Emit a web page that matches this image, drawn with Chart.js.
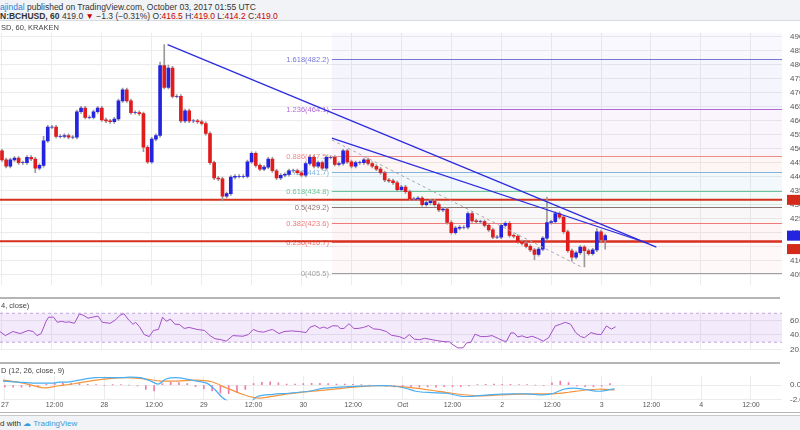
<!DOCTYPE html>
<html>
<head>
<meta charset="utf-8">
<script src="https://cdn.jsdelivr.net/npm/chart.js@4"></script>
<style>
  body { margin: 0; width: 800px; height: 430px; overflow: hidden; background: #fff; font-family: "Liberation Sans", Arial, sans-serif; position: relative; }
  .hdr { position: absolute; left: 0; top: 0; width: 800px; height: 20px; background: #f1f3f6; font-size: 8.5px; color: #333; border-bottom: 1px solid #d8dbe0; }
  .hdr div { position: absolute; left: 0; white-space: nowrap; }
  .pane { position: absolute; left: 0; width: 800px; }
  .sep { position: absolute; left: 0; width: 780px; height: 0; border-top: 2px solid #b5b5b5; }
  .ttl { position: absolute; left: 1px; font-size: 7.5px; color: #444; white-space: nowrap; }
  .ftr { position: absolute; left: 0; top: 415px; width: 800px; height: 15px; background: #f1f3f6; border-top: 1px solid #c8c8c8; font-size: 8px; color: #333; }
</style>
</head>
<body>
<div class="hdr">
  <div style="top:2px"><span style="color:#2f7ed8">ajindal</span> published on TradingView.com, October 03, 2017 01:55 UTC</div>
  <div style="top:11px"><b>N:BCHUSD, 60</b> 419.0 <span style="color:#c00">&#9660;</span> &minus;1.3 (&minus;0.31%) O:<span style="color:#c00">416.5</span> H:<span style="color:#c00">419.0</span> L:<span style="color:#c00">414.2</span> C:<span style="color:#c00">419.0</span></div>
</div>
<div class="pane" style="top:20px;height:278px"><canvas id="price"></canvas></div>
<div class="pane" style="top:298px;height:65px"><canvas id="rsi"></canvas></div>
<div class="pane" style="top:363px;height:50px"><canvas id="macd"></canvas></div>
<div class="sep" style="top:297px"></div>
<div class="sep" style="top:362px"></div>
<div class="sep" style="top:412px;width:800px;border-top-width:1px"></div>
<div class="ttl" style="top:23px">SD, 60, KRAKEN</div>
<div class="ttl" style="top:301px">4, close)</div>
<div class="ttl" style="top:366px">D (12, 26, close, 9)</div>
<div class="ftr"><span style="position:absolute;left:0;top:3px">d with <span style="color:#3a9ad9">&#9729; TradingView</span></span></div>
<script>
// hourly candles, hour 0 = Sep 27 00:00 UTC
const firstOpen = 449.3;
const closes = [446.1, 443.8, 446.1, 446.7, 445.1, 445.1, 447.0, 446.4, 443.1, 444.1,
  452.9, 457.8, 457.8, 454.5, 454.5, 454.8, 454.2, 454.2, 463.3, 464.6,
  461.3, 461.3, 463.3, 464.6, 460.4, 460.0, 459.7, 460.7, 467.2, 471.1,
  467.2, 463.0, 463.0, 462.6, 450.6, 445.4, 453.5, 454.8, 479.8, 472.0,
  478.9, 468.8, 468.8, 460.0, 463.6, 460.0, 460.0, 459.7, 459.1, 455.5,
  445.1, 439.6, 439.3, 433.1, 434.0, 439.9, 440.2, 440.2, 440.2, 445.4,
  448.4, 444.1, 442.8, 443.5, 446.4, 442.2, 439.6, 440.6, 440.9, 442.2,
  442.2, 441.5, 440.6, 444.8, 447.0, 443.8, 445.1, 443.1, 447.0, 447.0,
  444.5, 444.8, 449.3, 445.4, 443.8, 445.1, 445.1, 446.1, 444.8, 443.8,
  442.8, 441.5, 438.9, 438.6, 437.9, 435.4, 436.4, 434.7, 432.1, 432.1,
  432.4, 430.1, 430.8, 431.4, 430.1, 428.2, 428.5, 423.7, 420.1, 421.7,
  422.0, 422.0, 426.9, 424.3, 424.0, 424.0, 422.7, 421.1, 418.5, 418.5,
  422.7, 423.4, 419.1, 418.8, 416.8, 416.2, 415.2, 413.9, 412.3, 414.2,
  418.1, 423.7, 424.0, 426.9, 425.6, 420.4, 413.6, 411.3, 412.9, 414.9,
  413.6, 412.6, 413.9, 420.4, 417.5, 419.0];
const wickHighs = { 10: 454.5, 38: 481.0, 39: 487.3, 40: 480.0, 131: 432.8, 143: 421.5 };
const wickLows = { 8: 441.5, 34: 449.0, 53: 431.4, 128: 410.4, 137: 409.9, 140: 407.8, 145: 414.2 };

const timeTicks = [0, 12, 24, 36, 48, 60, 72, 84, 96, 108, 120, 132, 144, 156, 168, 180];
const timeLabels = ['27', '12:00', '28', '12:00', '29', '12:00', '30', '12:00', 'Oct', '12:00', '2', '12:00', '3', '12:00', '4', '12:00'];
const priceTicks = [405, 410, 415, 420, 425, 430, 435, 440, 445, 450, 455, 460, 465, 470, 475, 480, 485, 490];

const supportLines = [431.8, 417.0];
const trendA = [{ x: 39.8, y: 487.3 }, { x: 157.3, y: 414.9 }];
const trendB = [{ x: 79.3, y: 453.9 }, { x: 155.4, y: 416.2 }];
const dashedPath = [{ x: 79.3, y: 453.2 }, { x: 139.3, y: 407.8 }];

const fibStart = 79.3;
const fibRatios = ['1.618', '1.236', '0.886', '0.786', '0.618', '0.5', '0.382', '0.236', '0'];
const fibPrices = [482.2, 464.1, 447.5, 441.7, 434.8, 429.2, 423.6, 416.7, 405.5];
const fibColors = ['#7777d8', '#b46ad6', '#f08a8a', '#84b4dc', '#6cc49c', '#8f7272', '#f07a7a', '#ee6a6a', '#a0a0a0'];
const fibFills = ['rgba(120,110,230,0.07)', 'rgba(190,110,220,0.07)', 'rgba(240,110,110,0.07)', 'rgba(90,160,220,0.07)', 'rgba(90,200,150,0.07)', 'rgba(150,120,120,0.06)', 'rgba(240,110,110,0.06)', 'rgba(240,110,110,0.05)'];

const rsiHours = [-0.5, 0.8, 2.6, 4.4, 6.3, 7.5, 8.4, 9.4, 10.6, 11.2, 12.4, 13.3, 14.3, 15.3, 16.1, 17.4, 18.6, 19.5, 20.7, 21.7,
  23.1, 24.1, 26.0, 27.2, 28.4, 29.3, 30.5, 31.5, 32.1, 33.0, 34.2, 35.4, 36.4, 37.6, 38.6, 39.5, 40.5, 41.6, 42.6, 43.8,
  45.0, 46.9, 48.7, 50.0, 51.2, 52.7, 53.9, 55.5, 57.9, 59.2, 60.4, 61.6, 62.9, 64.1, 65.0, 66.6, 67.8, 69.6, 71.5, 73.1,
  74.0, 75.2, 76.4, 77.3, 78.2, 79.5, 80.7, 81.3, 82.2, 83.4, 84.6, 85.6, 86.9, 88.1, 89.3, 90.8, 92.4, 93.6, 95.5, 96.7,
  97.9, 99.1, 100.4, 101.6, 103.4, 104.7, 106.5, 107.5, 108.4, 109.6, 110.8, 111.7, 112.7, 113.7, 115.1, 116.4, 117.8, 119.4, 120.7, 121.3,
  122.3, 123.1, 124.0, 125.0, 126.2, 127.4, 128.7, 130.1, 131.4, 133.0, 134.2, 135.4, 136.7, 137.9, 139.1, 140.0, 141.6, 142.8, 144.0, 145.3, 146.5, 147.5];
const rsiValues = [44.7, 39.1, 44.7, 41.9, 46.2, 44.7, 39.1, 41.9, 58.9, 64.6, 64.6, 57.5, 58.9, 57.5, 58.1, 56.1, 68.9, 67.4, 63.2, 64.6,
  66.0, 57.5, 56.1, 60.4, 67.4, 69.4, 60.4, 54.7, 57.5, 51.8, 40.5, 37.7, 46.2, 47.6, 64.6, 58.9, 61.8, 54.7, 54.7, 49.0,
  50.4, 47.6, 46.2, 39.1, 34.8, 33.4, 31.4, 39.1, 38.2, 40.5, 47.6, 44.7, 43.9, 46.2, 47.6, 41.9, 44.7, 45.6, 44.7, 43.3,
  50.4, 53.2, 49.0, 51.0, 49.0, 52.7, 52.4, 49.0, 49.0, 55.5, 49.0, 49.0, 50.4, 53.0, 48.4, 47.6, 44.7, 39.6, 37.7, 34.8,
  40.5, 34.2, 33.4, 35.4, 33.4, 32.0, 30.6, 30.6, 26.3, 22.1, 22.1, 29.1, 29.7, 41.1, 37.7, 37.7, 39.1, 34.8, 31.4, 31.4,
  42.8, 42.8, 37.1, 38.8, 36.2, 38.2, 35.4, 31.4, 36.2, 52.4, 54.7, 57.5, 54.7, 43.3, 37.7, 36.2, 43.3, 41.1, 40.5, 52.4, 48.1, 51.3];

const macdHours = [-0.5, 3.2, 6.9, 9.4, 11.8, 13.0, 14.9, 16.7, 19.2, 21.7, 25.4, 28.4, 30.3, 32.7, 35.2, 37.0, 38.9, 41.3, 43.8, 46.3,
  48.7, 50.6, 52.4, 54.3, 56.1, 58.6, 61.0, 64.7, 68.4, 73.3, 77.0, 80.7, 85.6, 89.3, 93.0, 96.7, 99.1, 102.8, 106.5, 110.2,
  112.7, 117.6, 122.5, 126.2, 129.9, 132.4, 134.8, 137.3, 139.7, 143.4, 147.1];
const macdValues = [0.56, 0.42, 0.28, 0.28, 0.28, 0.42, 0.42, 0.56, 0.84, 1.04, 1.04, 1.04, 1.12, 1.04, 0.56, 0.14, 0.84, 1.04, 0.84, 0.56,
  0.28, -0.57, -1.69, -2.39, -2.67, -2.67, -1.55, -1.27, -1.13, -0.85, -0.43, -0.28, -0.14, -0.09, -0.09, -0.43, -0.85, -1.04, -1.13, -1.55,
  -1.55, -1.32, -1.21, -1.21, -1.35, -1.13, -0.57, -0.43, -0.57, -0.85, -0.51];
const signalHours = [-0.5, 4.4, 9.4, 13.0, 16.7, 20.4, 24.1, 29.0, 34.0, 37.6, 41.3, 46.3, 49.9, 53.6, 57.3, 59.8, 62.2, 65.9, 70.9, 75.8,
  80.7, 85.6, 90.5, 95.5, 99.1, 102.8, 107.8, 113.9, 117.6, 122.5, 128.7, 132.4, 136.0, 139.7, 143.4, 147.1];
const signalValues = [0.70, 0.28, -0.37, -0.09, 0.19, 0.56, 0.84, 1.04, 0.84, 0.56, 0.56, 0.70, 0.47, -0.43, -1.27, -1.69, -1.78, -1.41, -1.04, -0.76,
  -0.48, -0.20, -0.09, -0.20, -0.43, -0.71, -1.13, -1.49, -1.41, -1.27, -1.21, -1.21, -0.99, -0.71, -0.57, -0.65];
// histogram every 2 hours from hour 0
const histValues = [-0.25, -0.3, -0.3, -0.25, -0.2, 0.1, 0.25, 0.3, 0.25, 0.2, 0.1, 0.05, -0.05, 0.02, 0.05, 0.0, -0.1, -0.6, -0.8, 0.2,
  0.4, 0.35, 0.2, -0.2, -0.5, -0.8, -1.1, -1.2, -1.0, -0.6, 0.2, 0.4, 0.45, 0.3, 0.15, 0.15, 0.2, 0.25, 0.25, 0.2,
  0.15, 0.15, 0.1, 0.05, 0.0, -0.05, -0.15, -0.25, -0.3, -0.3, -0.3, -0.25, -0.3, -0.2, -0.2, -0.2, -0.1, 0.05, 0.1, 0.15,
  0.1, 0.1, 0.05, 0.05, 0.0, -0.05, 0.3, 0.55, 0.35, -0.1, -0.2, -0.2, -0.15, 0.2];

const xMin = -0.48, xMax = 187.5;
const gridColor = '#ececec';
Chart.defaults.animation = false;
Chart.defaults.font.family = '"Liberation Sans", Arial, sans-serif';

const opens = [firstOpen, ...closes.slice(0, -1)];
const bodies = closes.map((c, i) => ({ x: i, y: [opens[i], c] }));
const wicks = closes.map((c, i) => ({
  x: i,
  y: [wickLows[i] ?? Math.min(opens[i], c) - 0.6, wickHighs[i] ?? Math.max(opens[i], c) + 0.6]
}));
const bodyColors = closes.map((c, i) => c >= opens[i] ? '#2424e0' : '#e01c1c');

function xAxis(showLabels) {
  return {
    type: 'linear', min: xMin, max: xMax, offset: false,
    afterBuildTicks: s => { s.ticks = timeTicks.map(v => ({ value: v })); },
    grid: { color: gridColor, drawTicks: false, offset: false },
    border: { display: false },
    ticks: {
      display: showLabels, padding: 1, color: '#555', font: { size: 7 }, maxRotation: 0,
      callback: v => timeLabels[timeTicks.indexOf(v)]
    },
    afterFit: s => { s.height = showLabels ? 10 : 0; }
  };
}
function yAxis(min, max, ticks, fmt) {
  return {
    position: 'right', min, max,
    afterBuildTicks: s => { s.ticks = ticks.map(v => ({ value: v })); },
    grid: { color: gridColor, drawTicks: false },
    border: { display: false },
    ticks: { color: '#555', font: { size: 8 }, padding: 8, callback: fmt },
    afterFit: s => { s.width = 18; }
  };
}

const fibPlugin = {
  id: 'fib',
  beforeDatasetsDraw(chart) {
    const { ctx, chartArea: a, scales: { x, y } } = chart;
    const x0 = x.getPixelForValue(fibStart);
    ctx.save();
    ctx.fillStyle = 'rgba(150,130,230,0.06)';
    ctx.fillRect(x0, a.top, a.right - x0, y.getPixelForValue(fibPrices[0]) - a.top);
    for (let i = 0; i < fibFills.length; i++) {
      const t = y.getPixelForValue(fibPrices[i]), b = y.getPixelForValue(fibPrices[i + 1]);
      ctx.fillStyle = fibFills[i];
      ctx.fillRect(x0, t, a.right - x0, b - t);
    }
    ctx.font = '7.5px "Liberation Sans", Arial';
    ctx.textAlign = 'right';
    ctx.textBaseline = 'middle';
    fibPrices.forEach((p, i) => {
      const py = Math.round(y.getPixelForValue(p)) + 0.5;
      ctx.strokeStyle = fibColors[i];
      ctx.lineWidth = 1;
      ctx.beginPath(); ctx.moveTo(x0, py); ctx.lineTo(a.right, py); ctx.stroke();
      ctx.fillStyle = fibColors[i];
      ctx.fillText(fibRatios[i] + '(' + p.toFixed(1) + ')', x0 - 3, py);
    });
    ctx.restore();
  },
  afterDraw(chart) {
    const { ctx, chartArea: a, scales: { y } } = chart;
    const tags = [[supportLines[0], '#d42a1a'], [closes[closes.length - 1], '#2424e0'], [414.2, '#d42a1a']];
    ctx.save();
    tags.forEach(([v, c]) => {
      const py = y.getPixelForValue(v);
      ctx.fillStyle = c;
      ctx.fillRect(a.right + 5, py - 5, 20, 10);
    });
    ctx.restore();
  }
};

new Chart(document.getElementById('price'), {
  type: 'bar',
  data: {
    datasets: [
      ...supportLines.map(v => ({ type: 'line', data: [{ x: xMin, y: v }, { x: xMax, y: v }], borderColor: '#d6301e', borderWidth: 2, pointRadius: 0, order: 3 })),
      { type: 'line', data: trendA, borderColor: '#2b2be0', borderWidth: 1.3, pointRadius: 0, order: 0 },
      { type: 'line', data: trendB, borderColor: '#2b2be0', borderWidth: 1.3, pointRadius: 0, order: 0 },
      { type: 'line', data: dashedPath, borderColor: '#a8a8a8', borderWidth: 1, borderDash: [3, 3], pointRadius: 0, order: 0 },
      { data: wicks, backgroundColor: '#9a9a9a', barThickness: 1, grouped: false, order: 2 },
      { data: bodies, backgroundColor: bodyColors, barThickness: 3, grouped: false, order: 1 }
    ]
  },
  options: {
    responsive: true, maintainAspectRatio: false,
    layout: { padding: 0 },
    plugins: { legend: { display: false }, tooltip: { enabled: false } },
    scales: {
      x: xAxis(false),
      y: yAxis(401.3, 491.5, priceTicks, v => v.toFixed(1))
    }
  },
  plugins: [fibPlugin]
});

const rsiBand = {
  id: 'band',
  beforeDatasetsDraw(chart) {
    const { ctx, chartArea: a, scales: { y } } = chart;
    const t = y.getPixelForValue(70), b = y.getPixelForValue(30);
    ctx.save();
    ctx.fillStyle = 'rgba(160,90,235,0.13)';
    ctx.fillRect(a.left, t, a.right - a.left, b - t);
    ctx.strokeStyle = '#c0a6d8';
    ctx.setLineDash([3, 3]);
    [t, b].forEach(py => { ctx.beginPath(); ctx.moveTo(a.left, py); ctx.lineTo(a.right, py); ctx.stroke(); });
    ctx.restore();
  }
};

new Chart(document.getElementById('rsi'), {
  type: 'line',
  data: { datasets: [{ data: rsiHours.map((h, i) => ({ x: h, y: rsiValues[i] })), borderColor: '#a44fc8', borderWidth: 1, pointRadius: 0 }] },
  options: {
    responsive: true, maintainAspectRatio: false,
    layout: { padding: 0 },
    plugins: { legend: { display: false }, tooltip: { enabled: false } },
    scales: { x: xAxis(false), y: yAxis(18.9, 73.4, [20, 40, 60], v => v.toFixed(1)) }
  },
  plugins: [rsiBand]
});

new Chart(document.getElementById('macd'), {
  type: 'bar',
  data: {
    datasets: [
      { type: 'line', data: macdHours.map((h, i) => ({ x: h, y: macdValues[i] })), borderColor: '#4aaef0', borderWidth: 1.2, pointRadius: 0, tension: 0.3, order: 0 },
      { type: 'line', data: signalHours.map((h, i) => ({ x: h, y: signalValues[i] })), borderColor: '#f4943c', borderWidth: 1.2, pointRadius: 0, tension: 0.3, order: 0 },
      { data: histValues.map((v, i) => ({ x: i * 2, y: v })), backgroundColor: '#f07aa8', barThickness: 1, order: 1 }
    ]
  },
  options: {
    responsive: true, maintainAspectRatio: false,
    layout: { padding: 0 },
    plugins: { legend: { display: false }, tooltip: { enabled: false } },
    scales: { x: xAxis(true), y: yAxis(-2.09, 1.29, [0, -2], v => v.toFixed(1)) }
  }
});
</script>
</body>
</html>
